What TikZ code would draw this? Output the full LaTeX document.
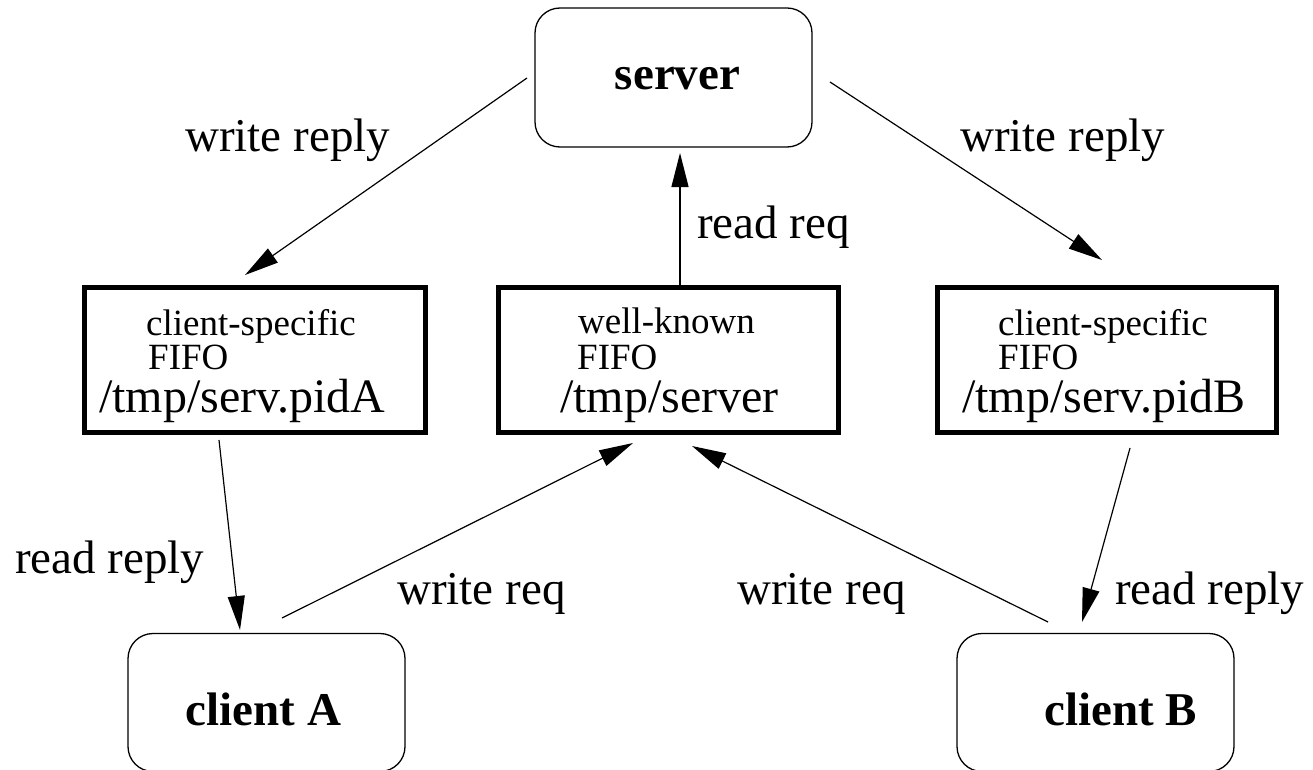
\documentclass[tikz,border=0pt]{standalone}
\usepackage{fontspec}
\setmainfont{Liberation Serif}
\usetikzlibrary{arrows.meta}
\begin{document}
\begin{tikzpicture}[x=1pt,y=-1pt,
  rbox/.style={draw, line width=1.3pt, rounded corners=25pt, inner sep=0pt},
  fbox/.style={draw, line width=5pt, inner sep=0pt, minimum height=145pt},
  conn/.style={line width=1.2pt, -{Triangle[length=34pt,width=17pt]}},
  lab/.style={anchor=base west, inner sep=0pt, font=\fontsize{47}{56}\selectfont},
  small/.style={anchor=base west, inner sep=0pt, font=\fontsize{37}{44}\selectfont},
  big/.style={anchor=base west, inner sep=0pt, font=\fontsize{48}{58}\selectfont},
  bold/.style={anchor=base, inner sep=0pt, font=\fontsize{47}{56}\selectfont\bfseries}]
\useasboundingbox (0,0) rectangle (1313,770);
\clip (0,0) rectangle (1313,770);

% rounded boxes
\node[rbox, minimum width=277pt, minimum height=139pt] (server) at (673.5,77.5) {};
\node[rbox, minimum width=277pt, minimum height=138pt] (clientA) at (266.5,702.5) {};
\node[rbox, minimum width=277pt, minimum height=138pt] (clientB) at (1095.5,702.5) {};
\node[bold] (tserver) at (677.5,90) {server};
\node[bold] (tclientA) at (263.5,725) {client A};
\node[bold] (tclientB) at (1120.5,725) {client B};

% FIFO boxes
\node[fbox, minimum width=341pt] (fifoA) at (254.5,359.5) {};
\node[fbox, minimum width=340pt] (fifoS) at (668,359.5) {};
\node[fbox, minimum width=339pt] (fifoB) at (1106.5,359.5) {};

\node[small] (csA) at (146,335) {client-specific};
\node[small] (ffA) at (148,369) {FIFO};
\node[big] (pA) at (99,412) {/tmp/serv.pidA};
\node[small] (wk) at (578,333) {well-known};
\node[small] (ffS) at (577,369) {FIFO};
\node[big] (pS) at (560,412) {/tmp/server};
\node[small] (csB) at (998,335) {client-specific};
\node[small] (ffB) at (998,369) {FIFO};
\node[big] (pB) at (962,412) {/tmp/serv.pidB};

% labels
\node[lab] (l1) at (185,152) {write reply};
\node[lab] (l2) at (960,152) {write reply};
\node[lab] (l3) at (697,238) {read req};
\node[lab] (l4) at (15,573) {read reply};
\node[lab] (l5) at (397,604) {write req};
\node[lab] (l6) at (737,604) {write req};
\node[lab] (l7) at (1115,604) {read reply};

% connector end points
\coordinate (s1) at (527,78);   \coordinate (a1) at (245,275);
\coordinate (s2) at (830,82);   \coordinate (b2) at (1102,260);
\coordinate (m3) at (680,286);  \coordinate (s3) at (680,153);
\coordinate (a4) at (219,440);  \coordinate (c4) at (240,630);
\coordinate (c5) at (282,618);  \coordinate (m5) at (633,443);
\coordinate (c6) at (1048,622); \coordinate (m6) at (692,446);
\coordinate (b7) at (1130,448); \coordinate (c7) at (1082,622);

\draw[conn] (s1) -- (a1);
\draw[conn] (s2) -- (b2);
\draw[conn] (m3) -- (s3);
\draw[conn] (a4) -- (c4);
\draw[conn] (c5) -- (m5);
\draw[conn] (c6) -- (m6);
\draw[conn] (b7) -- (c7);
\end{tikzpicture}
\end{document}
